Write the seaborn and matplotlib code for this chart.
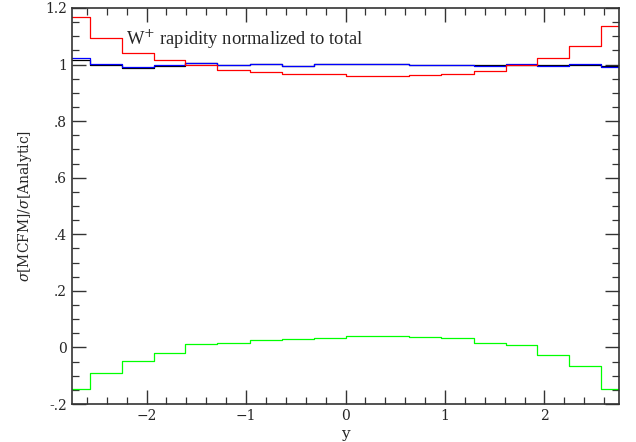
import numpy as np
import pandas as pd
import matplotlib
matplotlib.use("Agg")
import matplotlib.pyplot as plt
from matplotlib.ticker import MultipleLocator, FuncFormatter
import seaborn as sns

# bin edges in rapidity (19 edges -> 18 bins)
y_edges = [-2.89, -2.57, -2.25, -1.93, -1.61, -1.29, -0.96, -0.64, -0.32, 0.0,
           0.32, 0.64, 0.96, 1.29, 1.61, 1.93, 2.25, 2.57, 2.89]

# ratio values per bin
red_vals = [1.167, 1.093, 1.040, 1.016, 0.998, 0.980, 0.973, 0.967, 0.965,
            0.961, 0.961, 0.962, 0.968, 0.977, 1.000, 1.022, 1.066, 1.137]
blue_vals = [1.022, 1.002, 0.992, 0.998, 1.007, 0.997, 1.001, 0.996, 1.001,
             1.001, 1.003, 0.998, 1.000, 0.996, 1.002, 0.996, 1.001, 0.993]
black_vals = [1.015, 0.998, 0.989, 0.995, 1.007, 0.997, 1.001, 0.996, 1.001,
              1.001, 1.003, 0.998, 1.000, 0.998, 1.000, 0.998, 1.000, 0.996]
green_vals = [-0.147, -0.091, -0.049, -0.018, 0.011, 0.015, 0.026, 0.029, 0.035,
              0.041, 0.041, 0.037, 0.032, 0.017, 0.009, -0.028, -0.067, -0.148]

series = {"black": black_vals, "blue": blue_vals, "red": red_vals, "lime": green_vals}

rows = []
for name, vals in series.items():
    # repeat last value so steps-post closes the final bin
    for x, v in zip(y_edges, list(vals) + [vals[-1]]):
        rows.append({"y": x, "ratio": v, "series": name})
df = pd.DataFrame(rows)

sns.set_style("ticks")
plt.rcParams["font.family"] = ["DejaVu Serif"]
plt.rcParams["mathtext.fontset"] = "dejavuserif"

fig = plt.figure(figsize=(6.36, 4.42), dpi=100)
ax = fig.add_axes([72 / 636, 1 - 404 / 442, 547 / 636, 396 / 442])

for name in series:
    sub = df[df["series"] == name]
    sns.lineplot(data=sub, x="y", y="ratio", color=name, linewidth=0.9,
                 drawstyle="steps-post", estimator=None, sort=False, ax=ax)

ax.set_xlim(-2.75, 2.75)
ax.set_ylim(-0.2, 1.2)

ax.xaxis.set_major_locator(MultipleLocator(1))
ax.xaxis.set_minor_locator(MultipleLocator(0.2))
ax.yaxis.set_major_locator(MultipleLocator(0.2))
ax.yaxis.set_minor_locator(MultipleLocator(0.05))


def yfmt(v, pos):
    s = f"{v:.1f}".rstrip("0").rstrip(".")
    if s.startswith("0."):
        s = s[1:]
    elif s.startswith("-0."):
        s = "-" + s[2:]
    if s in ("", "-0"):
        s = "0"
    return s


def xfmt(v, pos):
    return f"{v:.0f}".replace("-", "\u2212")


ax.yaxis.set_major_formatter(FuncFormatter(yfmt))
ax.xaxis.set_major_formatter(FuncFormatter(xfmt))

ax.tick_params(which="both", direction="in", top=True, right=True,
               color="#333333", labelsize=10)
ax.tick_params(which="major", length=10, width=1.0)
ax.tick_params(which="minor", length=5, width=0.9)
for sp in ax.spines.values():
    sp.set_linewidth(1.2)
    sp.set_color("#333333")

ax.set_xlabel("y", fontsize=11, labelpad=3)
ax.set_ylabel(r"$\sigma$[MCFM]/$\sigma$[Analytic]", fontsize=10, labelpad=8)

ax.text(-2.21, 1.09, r"W$^{+}$ rapidity normalized to total",
        family=["Liberation Serif", "DejaVu Serif"], fontsize=13.3, va="center")

fig.savefig("out.png", dpi=100)
